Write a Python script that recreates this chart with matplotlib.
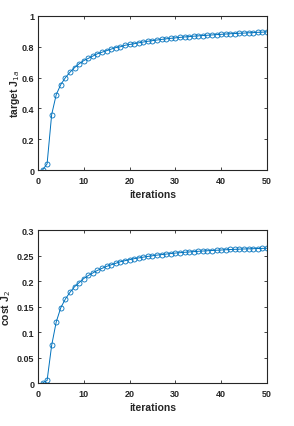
import matplotlib
matplotlib.use("Agg")
import matplotlib.pyplot as plt
import numpy as np

iterations = list(range(1, 51))
target_J1a = [0.0, 0.04, 0.36, 0.49, 0.555, 0.60, 0.635, 0.665, 0.69, 0.71,
              0.725, 0.74, 0.755, 0.765, 0.775, 0.785, 0.795, 0.80, 0.81, 0.815,
              0.82, 0.826, 0.831, 0.836, 0.84, 0.844, 0.848, 0.852, 0.855, 0.858,
              0.861, 0.864, 0.866, 0.869, 0.871, 0.873, 0.875, 0.877, 0.879, 0.881,
              0.883, 0.885, 0.886, 0.888, 0.889, 0.891, 0.892, 0.894, 0.895, 0.897]
cost_J2 = [0.0, 0.005, 0.074, 0.12, 0.148, 0.165, 0.178, 0.189, 0.197, 0.205,
           0.211, 0.216, 0.221, 0.225, 0.229, 0.232, 0.235, 0.238, 0.240, 0.242,
           0.244, 0.2455, 0.247, 0.2485, 0.2497, 0.251, 0.252, 0.253, 0.254, 0.255,
           0.2557, 0.2565, 0.2572, 0.2578, 0.2585, 0.259, 0.2596, 0.260, 0.2605, 0.261,
           0.2615, 0.262, 0.2623, 0.2627, 0.263, 0.2633, 0.2636, 0.2639, 0.2642, 0.2645]

plt.rcParams['font.family'] = ['Liberation Sans', 'DejaVu Sans']
blue = (0, 0.447, 0.741)
axcol = (0.15, 0.15, 0.15)

fig = plt.figure(figsize=(2.94, 4.27), dpi=100)

def style(ax, ylim, yticks, yticklabels, ylabel, ylab_x):
    ax.set_xlim(0, 50)
    ax.set_ylim(*ylim)
    ax.set_xticks([0, 10, 20, 30, 40, 50])
    ax.set_yticks(yticks)
    ax.set_yticklabels(yticklabels)
    ax.tick_params(direction='in', length=2, width=0.6, top=True, right=True,
                   labelsize=6.5, colors=axcol)
    ax.tick_params(axis='x', pad=4)
    ax.tick_params(axis='y', pad=2.5)
    for lab in ax.get_xticklabels() + ax.get_yticklabels():
        lab.set_fontweight('bold')
    for s in ax.spines.values():
        s.set_color(axcol)
        s.set_linewidth(0.8)
    ax.set_xlabel('iterations', fontsize=7.5, fontweight='bold', color=axcol, labelpad=3)
    ax.set_ylabel(ylabel, fontsize=7.5, fontweight='bold', color=axcol)
    ax.yaxis.set_label_coords(ylab_x, 0.5)

ax1 = fig.add_axes([0.129, 0.5995, 0.779, 0.3607])
ax1.plot(iterations, target_J1a, color=blue, lw=0.7, marker='o', ms=3.6,
         mfc='none', mew=0.6)
style(ax1, (0, 1), [0, 0.2, 0.4, 0.6, 0.8, 1], ['0', '0.2', '0.4', '0.6', '0.8', '1'],
      'target J$_{1a}$', -0.07)

ax2 = fig.add_axes([0.129, 0.1007, 0.779, 0.358])
ax2.plot(iterations, cost_J2, color=blue, lw=0.7, marker='o', ms=3.6,
         mfc='none', mew=0.6)
style(ax2, (0, 0.3), [0, 0.05, 0.1, 0.15, 0.2, 0.25, 0.3],
      ['0', '0.05', '0.1', '0.15', '0.2', '0.25', '0.3'], 'cost J$_2$', -0.11)

fig.savefig('out.png', dpi=100)
